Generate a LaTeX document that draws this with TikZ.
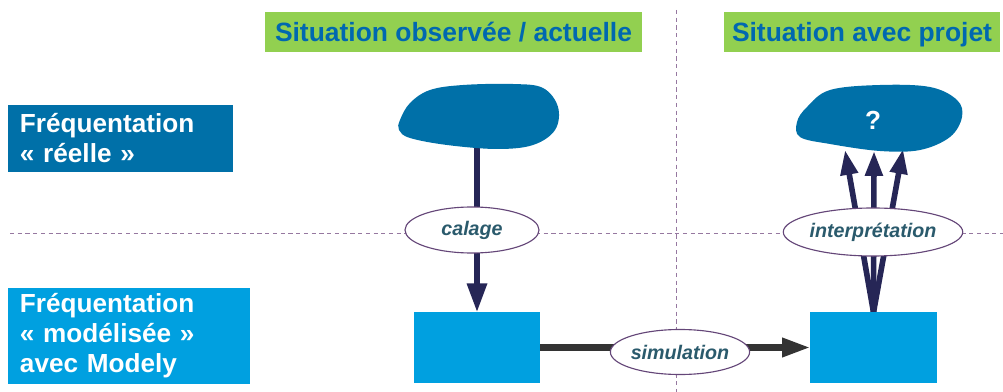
\documentclass[tikz,border=0pt]{standalone}
\usepackage{fontspec}
\setmainfont{Liberation Sans}
\usetikzlibrary{arrows.meta, positioning, shapes.geometric, backgrounds}
\definecolor{darkblue}{RGB}{0,112,168}
\definecolor{lightblue}{RGB}{0,160,224}
\definecolor{headgreen}{RGB}{146,208,80}
\definecolor{headtext}{RGB}{0,104,176}
\definecolor{navy}{RGB}{38,38,86}
\definecolor{ovaltext}{RGB}{42,90,108}
\definecolor{ovalline}{RGB}{100,70,120}
\definecolor{guide}{RGB}{150,120,160}
\definecolor{simgrey}{RGB}{51,51,51}

\begin{document}
\begin{tikzpicture}[x=0.025cm, y=-0.025cm,
  header/.style={fill=headgreen, text=headtext, font=\fontsize{18.8}{22}\selectfont\bfseries,
    minimum height=1cm, inner sep=0pt, text height=0.56cm, text depth=0.1cm},
  rowlabel/.style={text=white, font=\fontsize{18.6}{21.3}\selectfont\bfseries,
    align=left, inner xsep=0.3cm, inner ysep=0pt},
  modelbox/.style={fill=lightblue, minimum width=3.15cm, minimum height=1.75cm, inner sep=0pt},
  oval/.style={ellipse, draw=ovalline, fill=white, line width=0.8pt, inner sep=0pt,
    text=ovaltext, font=\fontsize{14}{16}\selectfont\bfseries\itshape},
  guideline/.style={guide, line width=0.7pt, dash pattern=on 3pt off 2.5pt},
  flow/.style={navy, line width=4pt, -{Triangle[length=0.72cm, width=0.48cm]}},
  fan/.style={navy, line width=4pt, -{Triangle[length=0.62cm, width=0.42cm]}}]
  \useasboundingbox (0,0) rectangle (1003,392);

  % column headers
  \node[header, minimum width=9.425cm] (headNow) at (453.5,32) {Situation observée / actuelle};
  \node[header, minimum width=6.9cm] (headProj) at (862,32) {Situation avec projet};

  % row labels
  \node[rowlabel, fill=darkblue, text width=5.025cm, minimum height=1.675cm] (rowReal)
    at (120.5,138.5) {Fréquentation\\« réelle »};
  \node[rowlabel, fill=lightblue, text width=5.45cm, minimum height=2.4cm] (rowModel)
    at (129,336) {Fréquentation\\« modélisée »\\avec Modely};

  % observed counts (clouds)
  \fill[darkblue] plot[smooth cycle, tension=0.6] coordinates {(400,120) (410,103) (430,90)
    (463,85) (513,84) (543,88) (558,107) (555,130) (533,145) (497,149) (447,145) (410,138) (399,130)};
  \fill[darkblue] plot[smooth cycle, tension=0.6] coordinates {(797,122) (807,107) (830,90)
    (880,85) (930,87) (957,100) (962,117) (950,137) (920,150) (880,151) (830,144) (800,137)};
  \node[text=white, font=\fontsize{18.6}{22}\selectfont\bfseries] (unknown) at (873,120) {?};
  \coordinate (cloudNow) at (477,148);
  \coordinate (cloudL) at (845,150);
  \coordinate (cloudM) at (874,151);
  \coordinate (cloudR) at (903,149);

  % model results
  \node[modelbox] (modelNow) at (477,347.5) {};
  \node[modelbox] (modelProj) at (873.5,347.5) {};

  % step labels
  \node[oval, minimum width=3.35cm, minimum height=1.15cm] (calage) at (472,230) {calage};
  \node[oval, minimum width=3.375cm, minimum height=1.125cm] (simul) at (680,352) {simulation};
  \node[oval, minimum width=4cm, minimum height=1.2cm] (interp) at (873,232) {interprétation};

  \begin{pgfonlayer}{background}
    \draw[guideline] (676,10) -- (676,392);
    \draw[guideline] (10,233) -- (1003,233);
    \draw[flow] (cloudNow) -- (modelNow.north);
    \draw[simgrey, line width=4.5pt, -{Triangle[length=0.7cm, width=0.45cm]}]
      (modelNow.east) -- (modelProj.west);
    \foreach \tip in {cloudL, cloudM, cloudR}
      \draw[fan] (modelProj.north) -- (\tip);
  \end{pgfonlayer}
\end{tikzpicture}
\end{document}
